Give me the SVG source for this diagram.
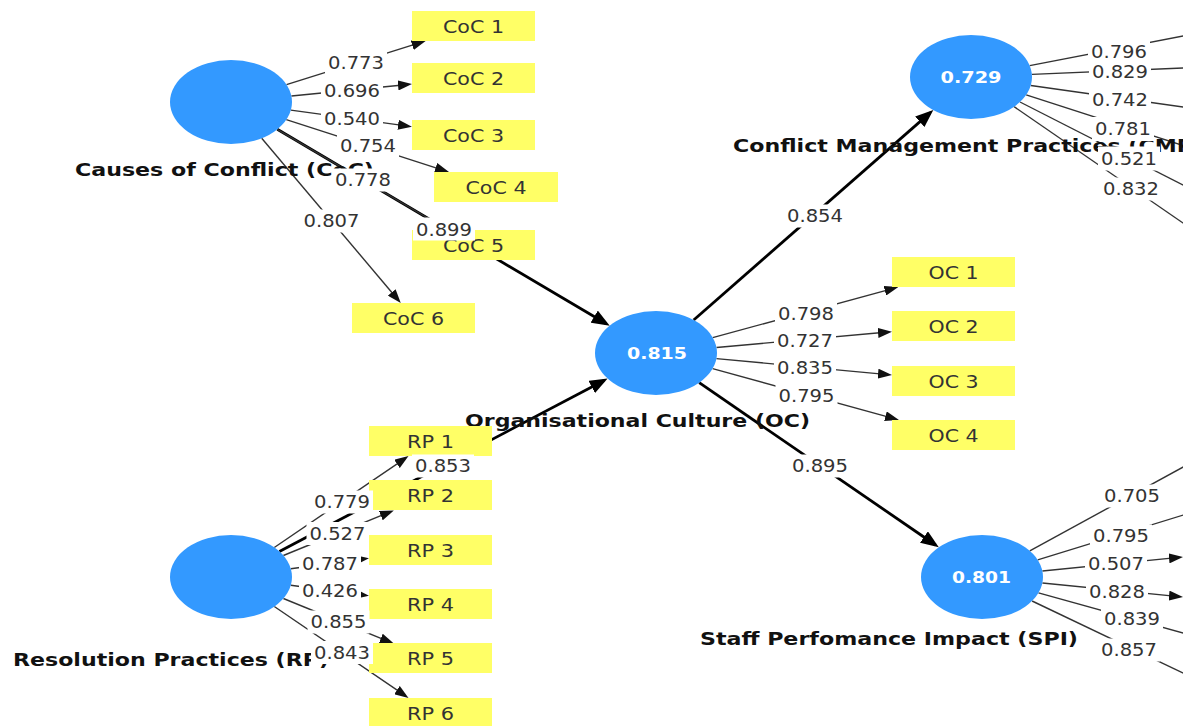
<svg xmlns="http://www.w3.org/2000/svg" width="1183" height="726" viewBox="0 0 1183 726">
<style>
.bg{fill:#fff}
.lat{fill:#3399FF}
.val{font-family:"DejaVu Sans",sans-serif;font-weight:bold;font-size:15px;fill:#fff;text-anchor:middle}
.name{font-family:"DejaVu Sans",sans-serif;font-weight:bold;font-size:18px;fill:#111}
.box{fill:#FFFF66}
.it{font-family:"DejaVu Sans",sans-serif;font-size:17px;fill:#333;text-anchor:middle}
.thin{stroke:#333;stroke-width:1.4;fill:none}
.thick{stroke:#000;stroke-width:2.8;fill:none}
.wbg{fill:#fff}
.wt{font-family:"DejaVu Sans",sans-serif;font-size:17px;fill:#333;text-anchor:middle}
</style>
<defs>
<marker id="ah" markerUnits="userSpaceOnUse" viewBox="0 0 14 10" markerWidth="14" markerHeight="10" refX="10" refY="5" orient="auto"><path d="M0,0 L14,5 L0,10 z" fill="#111"/></marker>
<marker id="ahb" markerUnits="userSpaceOnUse" viewBox="0 0 18 14" markerWidth="18" markerHeight="14" refX="14" refY="7" orient="auto"><path d="M0,0 L18,7 L0,14 z" fill="#000"/></marker>
</defs>
<rect class="bg" x="0" y="0" width="1183" height="726"/>

<g id="connectors">
  <!-- structural paths -->
  <line class="thick" x1="277.3" y1="129.3" x2="606.3" y2="323.7" marker-end="url(#ahb)"/>
  <line class="thick" x1="693.7" y1="320" x2="930.3" y2="112.6" marker-end="url(#ahb)"/>
  <line class="thick" x1="699.2" y1="382.7" x2="935.5" y2="545" marker-end="url(#ahb)"/>
  <line class="thick" x1="279.4" y1="551.5" x2="604.1" y2="380.4" marker-end="url(#ahb)"/>
  <!-- CoC indicators -->
  <line class="thin" x1="286.5" y1="84.6" x2="421.8" y2="42.2" marker-end="url(#ah)"/>
  <line class="thin" x1="291.4" y1="96" x2="408" y2="84.5" marker-end="url(#ah)"/>
  <line class="thin" x1="290.8" y1="110.1" x2="408" y2="126.1" marker-end="url(#ah)"/>
  <line class="thin" x1="286.3" y1="119.7" x2="445.2" y2="170.8" marker-end="url(#ah)"/>
  <line class="thin" x1="277.3" y1="129.3" x2="444.6" y2="228" marker-end="url(#ah)"/>
  <line class="thin" x1="261.7" y1="138.3" x2="398.2" y2="300" marker-end="url(#ah)"/>
  <!-- OC indicators -->
  <line class="thin" x1="712.7" y1="337.6" x2="894.5" y2="288.1" marker-end="url(#ah)"/>
  <line class="thin" x1="716.5" y1="347.5" x2="888" y2="332" marker-end="url(#ah)"/>
  <line class="thin" x1="716.4" y1="358.6" x2="888" y2="374.6" marker-end="url(#ah)"/>
  <line class="thin" x1="712.6" y1="368.6" x2="895.1" y2="418.9" marker-end="url(#ah)"/>
  <!-- RP indicators -->
  <line class="thin" x1="274.3" y1="547.5" x2="405.2" y2="458.3" marker-end="url(#ah)"/>
  <line class="thin" x1="283.4" y1="555.5" x2="390.1" y2="511.9" marker-end="url(#ah)"/>
  <line class="thin" x1="290.8" y1="568.8" x2="365" y2="558.7" marker-end="url(#ah)"/>
  <line class="thin" x1="290.8" y1="585.2" x2="365" y2="595.3" marker-end="url(#ah)"/>
  <line class="thin" x1="283.4" y1="598.5" x2="390.1" y2="642.1" marker-end="url(#ah)"/>
  <line class="thin" x1="274.3" y1="606.5" x2="405.2" y2="695.7" marker-end="url(#ah)"/>
  <!-- CMP indicators -->
  <line class="thin" x1="1029.7" y1="65.6" x2="1200" y2="32.7"/>
  <line class="thin" x1="1031.9" y1="74.4" x2="1200" y2="67.3"/>
  <line class="thin" x1="1030.8" y1="85.5" x2="1200" y2="109.4"/>
  <line class="thin" x1="1026.2" y1="94.8" x2="1200" y2="150.9"/>
  <line class="thin" x1="1020" y1="102" x2="1200" y2="193.6"/>
  <line class="thin" x1="1014.1" y1="106.7" x2="1200" y2="234.7"/>
  <!-- SPI indicators -->
  <line class="thin" x1="1029.8" y1="550.9" x2="1200" y2="457.8"/>
  <line class="thin" x1="1037.7" y1="559.8" x2="1200" y2="509.9"/>
  <line class="thin" x1="1042.4" y1="571" x2="1179" y2="557.4" marker-end="url(#ah)"/>
  <line class="thin" x1="1042.4" y1="583" x2="1179" y2="596.6" marker-end="url(#ah)"/>
  <line class="thin" x1="1038.5" y1="592.8" x2="1200" y2="637.8"/>
  <line class="thin" x1="1032.1" y1="601" x2="1200" y2="681.2"/>
</g>

<g id="node-CoC">
  <ellipse class="lat" cx="231" cy="102" rx="61" ry="42"/>
  <text class="name" x="75" y="176" textLength="299" lengthAdjust="spacingAndGlyphs">Causes of Conflict (CoC)</text>
</g>
<g id="node-CMP">
  <ellipse class="lat" cx="971" cy="77" rx="61" ry="42"/>
  <text class="val" x="971" y="83" textLength="61" lengthAdjust="spacingAndGlyphs">0.729</text>
  <text class="name" x="733" y="152" textLength="470" lengthAdjust="spacingAndGlyphs">Conflict Management Practices (CMP)</text>
</g>
<g id="node-OC">
  <ellipse class="lat" cx="656" cy="353" rx="61" ry="42"/>
  <text class="val" x="657" y="359" textLength="60" lengthAdjust="spacingAndGlyphs">0.815</text>
  <text class="name" x="465" y="427" textLength="345" lengthAdjust="spacingAndGlyphs">Organisational Culture (OC)</text>
</g>
<g id="node-SPI">
  <ellipse class="lat" cx="982" cy="577" rx="61" ry="42"/>
  <text class="val" x="981.5" y="583" textLength="59" lengthAdjust="spacingAndGlyphs">0.801</text>
  <text class="name" x="700" y="645" textLength="378" lengthAdjust="spacingAndGlyphs">Staff Perfomance Impact (SPI)</text>
</g>
<g id="node-RP">
  <ellipse class="lat" cx="231" cy="577" rx="61" ry="42"/>
  <text class="name" x="13" y="666" textLength="316" lengthAdjust="spacingAndGlyphs">Resolution Practices (RP)</text>
</g>

<g id="node-CoC1"><rect class="box" x="412" y="11" width="123" height="30"/><text class="it" x="473.5" y="33" textLength="61" lengthAdjust="spacingAndGlyphs">CoC 1</text></g>
<g id="node-CoC2"><rect class="box" x="412" y="63" width="123" height="30"/><text class="it" x="473.5" y="85" textLength="61" lengthAdjust="spacingAndGlyphs">CoC 2</text></g>
<g id="node-CoC3"><rect class="box" x="412" y="120" width="123" height="30"/><text class="it" x="473.5" y="142" textLength="61" lengthAdjust="spacingAndGlyphs">CoC 3</text></g>
<g id="node-CoC4"><rect class="box" x="434" y="172" width="124" height="30"/><text class="it" x="496" y="194" textLength="61" lengthAdjust="spacingAndGlyphs">CoC 4</text></g>
<g id="node-CoC5"><rect class="box" x="412" y="230" width="123" height="30"/><text class="it" x="473.5" y="252" textLength="61" lengthAdjust="spacingAndGlyphs">CoC 5</text></g>
<g id="node-CoC6"><rect class="box" x="352" y="303" width="123" height="30"/><text class="it" x="413.5" y="325" textLength="61" lengthAdjust="spacingAndGlyphs">CoC 6</text></g>

<g id="node-OC1"><rect class="box" x="892" y="257" width="123" height="30"/><text class="it" x="953.5" y="279" textLength="50" lengthAdjust="spacingAndGlyphs">OC 1</text></g>
<g id="node-OC2"><rect class="box" x="892" y="311" width="123" height="30"/><text class="it" x="953.5" y="333" textLength="50" lengthAdjust="spacingAndGlyphs">OC 2</text></g>
<g id="node-OC3"><rect class="box" x="892" y="366" width="123" height="30"/><text class="it" x="953.5" y="388" textLength="50" lengthAdjust="spacingAndGlyphs">OC 3</text></g>
<g id="node-OC4"><rect class="box" x="892" y="420" width="123" height="30"/><text class="it" x="953.5" y="442" textLength="50" lengthAdjust="spacingAndGlyphs">OC 4</text></g>

<g id="node-RP1"><rect class="box" x="369" y="426" width="123" height="30"/><text class="it" x="430.5" y="448" textLength="47" lengthAdjust="spacingAndGlyphs">RP 1</text></g>
<g id="node-RP2"><rect class="box" x="369" y="480" width="123" height="30"/><text class="it" x="430.5" y="502" textLength="47" lengthAdjust="spacingAndGlyphs">RP 2</text></g>
<g id="node-RP3"><rect class="box" x="369" y="535" width="123" height="30"/><text class="it" x="430.5" y="557" textLength="47" lengthAdjust="spacingAndGlyphs">RP 3</text></g>
<g id="node-RP4"><rect class="box" x="369" y="589" width="123" height="30"/><text class="it" x="430.5" y="611" textLength="47" lengthAdjust="spacingAndGlyphs">RP 4</text></g>
<g id="node-RP5"><rect class="box" x="369" y="643" width="123" height="30"/><text class="it" x="430.5" y="665" textLength="47" lengthAdjust="spacingAndGlyphs">RP 5</text></g>
<g id="node-RP6"><rect class="box" x="369" y="698" width="123" height="30"/><text class="it" x="430.5" y="720" textLength="47" lengthAdjust="spacingAndGlyphs">RP 6</text></g>

<g id="connector-labels">
  <g><rect class="wbg" x="325" y="51.5" width="62" height="23"/><text class="wt" x="356" y="69" textLength="56" lengthAdjust="spacingAndGlyphs">0.773</text></g>
  <g><rect class="wbg" x="321" y="79" width="62" height="23"/><text class="wt" x="352" y="96.5" textLength="56" lengthAdjust="spacingAndGlyphs">0.696</text></g>
  <g><rect class="wbg" x="321" y="107" width="62" height="23"/><text class="wt" x="352" y="124.5" textLength="56" lengthAdjust="spacingAndGlyphs">0.540</text></g>
  <g><rect class="wbg" x="337" y="134.5" width="62" height="23"/><text class="wt" x="368" y="152" textLength="56" lengthAdjust="spacingAndGlyphs">0.754</text></g>
  <g><rect class="wbg" x="332" y="168.5" width="62" height="23"/><text class="wt" x="363" y="186" textLength="56" lengthAdjust="spacingAndGlyphs">0.778</text></g>
  <g><rect class="wbg" x="300.5" y="209.5" width="62" height="23"/><text class="wt" x="331.5" y="227" textLength="56" lengthAdjust="spacingAndGlyphs">0.807</text></g>
  <g><rect class="wbg" x="413" y="217.5" width="62" height="23"/><text class="wt" x="444" y="235.5" textLength="56" lengthAdjust="spacingAndGlyphs">0.899</text></g>

  <g><rect class="wbg" x="784" y="204.5" width="62" height="23"/><text class="wt" x="815" y="222" textLength="56" lengthAdjust="spacingAndGlyphs">0.854</text></g>
  <g><rect class="wbg" x="775" y="302" width="62" height="23"/><text class="wt" x="806" y="319.5" textLength="56" lengthAdjust="spacingAndGlyphs">0.798</text></g>
  <g><rect class="wbg" x="774" y="329" width="62" height="23"/><text class="wt" x="805" y="346.5" textLength="56" lengthAdjust="spacingAndGlyphs">0.727</text></g>
  <g><rect class="wbg" x="774" y="356.5" width="62" height="23"/><text class="wt" x="805" y="374" textLength="56" lengthAdjust="spacingAndGlyphs">0.835</text></g>
  <g><rect class="wbg" x="775.5" y="384" width="62" height="23"/><text class="wt" x="806.5" y="401.5" textLength="56" lengthAdjust="spacingAndGlyphs">0.795</text></g>
  <g><rect class="wbg" x="789" y="454.5" width="62" height="23"/><text class="wt" x="820" y="472" textLength="56" lengthAdjust="spacingAndGlyphs">0.895</text></g>

  <g><rect class="wbg" x="412" y="454.5" width="62" height="23"/><text class="wt" x="443" y="472" textLength="56" lengthAdjust="spacingAndGlyphs">0.853</text></g>
  <g><rect class="wbg" x="311" y="490.5" width="62" height="23"/><text class="wt" x="342" y="508" textLength="56" lengthAdjust="spacingAndGlyphs">0.779</text></g>
  <g><rect class="wbg" x="306.5" y="522" width="62" height="23"/><text class="wt" x="337.5" y="539.5" textLength="56" lengthAdjust="spacingAndGlyphs">0.527</text></g>
  <g><rect class="wbg" x="299" y="552" width="62" height="23"/><text class="wt" x="330" y="569.5" textLength="56" lengthAdjust="spacingAndGlyphs">0.787</text></g>
  <g><rect class="wbg" x="299" y="579.5" width="62" height="23"/><text class="wt" x="330" y="597" textLength="56" lengthAdjust="spacingAndGlyphs">0.426</text></g>
  <g><rect class="wbg" x="307.5" y="610.5" width="62" height="23"/><text class="wt" x="338.5" y="628" textLength="56" lengthAdjust="spacingAndGlyphs">0.855</text></g>
  <g><rect class="wbg" x="311" y="641" width="62" height="23"/><text class="wt" x="342" y="658.5" textLength="56" lengthAdjust="spacingAndGlyphs">0.843</text></g>

  <g><rect class="wbg" x="1088" y="40" width="62" height="23"/><text class="wt" x="1119" y="57.5" textLength="56" lengthAdjust="spacingAndGlyphs">0.796</text></g>
  <g><rect class="wbg" x="1089" y="60" width="62" height="23"/><text class="wt" x="1120" y="77.5" textLength="56" lengthAdjust="spacingAndGlyphs">0.829</text></g>
  <g><rect class="wbg" x="1089" y="88.5" width="62" height="23"/><text class="wt" x="1120" y="106" textLength="56" lengthAdjust="spacingAndGlyphs">0.742</text></g>
  <g><rect class="wbg" x="1092" y="117" width="62" height="24"/><text class="wt" x="1123" y="134.5" textLength="56" lengthAdjust="spacingAndGlyphs">0.781</text></g>
  <g><rect class="wbg" x="1098" y="146.5" width="62" height="24"/><text class="wt" x="1129" y="165" textLength="56" lengthAdjust="spacingAndGlyphs">0.521</text></g>
  <g><rect class="wbg" x="1100" y="177.5" width="62" height="23"/><text class="wt" x="1131" y="195" textLength="56" lengthAdjust="spacingAndGlyphs">0.832</text></g>

  <g><rect class="wbg" x="1101" y="484.5" width="62" height="23"/><text class="wt" x="1132" y="502" textLength="56" lengthAdjust="spacingAndGlyphs">0.705</text></g>
  <g><rect class="wbg" x="1090" y="524.5" width="62" height="23"/><text class="wt" x="1121" y="542" textLength="56" lengthAdjust="spacingAndGlyphs">0.795</text></g>
  <g><rect class="wbg" x="1085" y="552.5" width="62" height="23"/><text class="wt" x="1116" y="570" textLength="56" lengthAdjust="spacingAndGlyphs">0.507</text></g>
  <g><rect class="wbg" x="1086" y="580.5" width="62" height="23"/><text class="wt" x="1117" y="598" textLength="56" lengthAdjust="spacingAndGlyphs">0.828</text></g>
  <g><rect class="wbg" x="1101" y="607" width="62" height="23"/><text class="wt" x="1132" y="624.5" textLength="56" lengthAdjust="spacingAndGlyphs">0.839</text></g>
  <g><rect class="wbg" x="1098" y="638.5" width="62" height="23"/><text class="wt" x="1129" y="656" textLength="56" lengthAdjust="spacingAndGlyphs">0.857</text></g>
</g>
</svg>
